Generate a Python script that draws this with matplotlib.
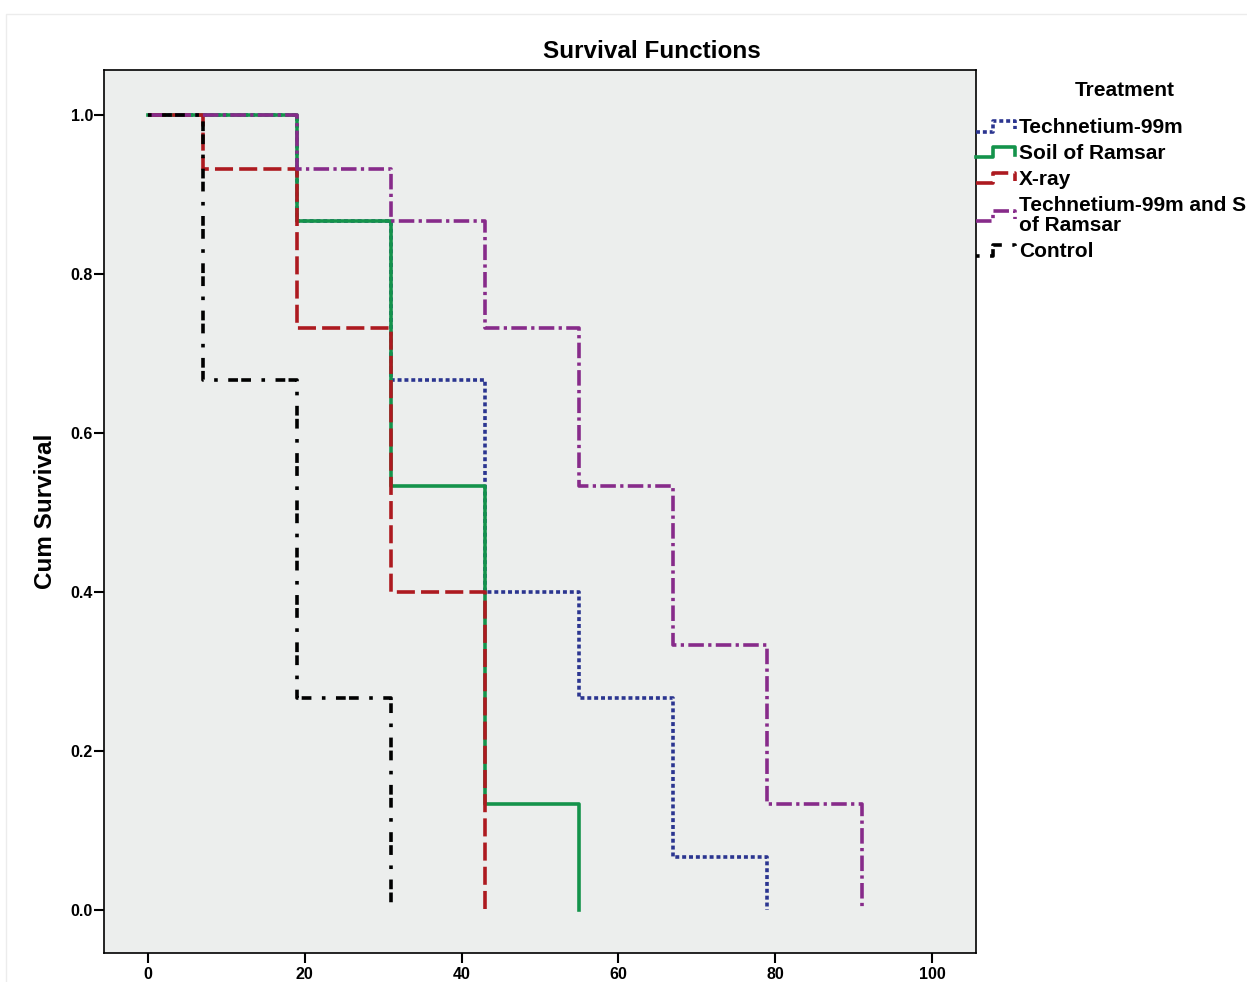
import matplotlib
matplotlib.use('Agg')
import matplotlib.pyplot as plt
from matplotlib.lines import Line2D
from matplotlib.legend_handler import HandlerBase
from matplotlib.patches import Rectangle

plt.rcParams['font.family'] = ['Liberation Sans', 'DejaVu Sans']
plt.rcParams['font.weight'] = 'bold'

# Kaplan-Meier step data (time, cumulative survival)
tc_times = [0, 19, 31, 43, 55, 67, 79]
tc_surv = [1.0, 0.867, 0.667, 0.4, 0.267, 0.067, 0.0]
soil_times = [0, 19, 31, 43, 55]
soil_surv = [1.0, 0.867, 0.533, 0.133, 0.0]
xray_times = [0, 7, 19, 31, 43]
xray_surv = [1.0, 0.933, 0.733, 0.4, 0.0]
tcsoil_times = [0, 19, 31, 43, 55, 67, 79, 91]
tcsoil_surv = [1.0, 0.933, 0.867, 0.733, 0.533, 0.333, 0.133, 0.0]
ctrl_times = [0, 7, 19, 31]
ctrl_surv = [1.0, 0.667, 0.267, 0.0]

labels = ['Technetium-99m', 'Soil of Ramsar', 'X-ray',
          'Technetium-99m and Soil\nof Ramsar', 'Control']
xticks = [0, 20, 40, 60, 80, 100]
yticks = [0.0, 0.2, 0.4, 0.6, 0.8, 1.0]


class StepHandler(HandlerBase):
    # legend icon shaped like a little survival step
    def create_artists(self, legend, orig_handle, xdescent, ydescent,
                       width, height, fontsize, trans):
        w, h = width, height
        xs = [-xdescent, -xdescent + 0.45 * w, -xdescent + 0.45 * w,
              -xdescent + w, -xdescent + w]
        ys = [-ydescent + 0.1 * h, -ydescent + 0.1 * h, -ydescent + 0.8 * h,
              -ydescent + 0.8 * h, -ydescent + 0.25 * h]
        ln = Line2D(xs, ys)
        self.update_prop(ln, orig_handle, legend)
        ln.set_transform(trans)
        return [ln]


fig = plt.figure(figsize=(12.47, 9.82), dpi=100)
fig.patches.append(Rectangle((6 / 1247, -0.05), 1.2, 1.05 - 14 / 982,
                             transform=fig.transFigure, fill=False,
                             edgecolor='#ececec', linewidth=1))
ax = fig.add_axes([104 / 1247, 29 / 982, 872 / 1247, 883 / 982])
ax.set_facecolor('#eceeed')

lw = 2.6
series = [
    (tc_times, tc_surv, '#2b3590', (0, (1.1, 0.8))),
    (soil_times, soil_surv, '#14934b', '-'),
    (xray_times, xray_surv, '#ad1a20', (0, (5, 1.7))),
    (tcsoil_times, tcsoil_surv, '#872b8a', (0, (4.3, 1.2, 0.9, 1.2))),
    (ctrl_times, ctrl_surv, 'black', (0, (1, 2.9, 2.7, 0.9, 2.7, 2.9))),
]
handles = []
for (t, s, c, ls), lab in zip(series, labels):
    l, = ax.step(t, s, where='post', color=c, linestyle=ls, linewidth=lw,
                 label=lab)
    handles.append(l)

ax.set_xlim(-5.6, 105.6)
ax.set_ylim(-0.054, 1.057)
ax.set_xticks(xticks)
ax.set_yticks(yticks)
ax.set_xticklabels([str(v) for v in xticks])
ax.set_yticklabels(['%.1f' % v for v in yticks])
ax.tick_params(direction='out', length=7, width=1.5, labelsize=11.5, pad=1)
ax.tick_params(axis='x', pad=3)
for sp in ax.spines.values():
    sp.set_linewidth(1.2)

ax.set_ylabel('Cum Survival', fontsize=17.5, fontweight='bold')
ax.yaxis.set_label_coords(-0.054, 0.5)
fig.text(652 / 1247, 1 - 51 / 982, 'Survival Functions', ha='center',
         va='center', fontsize=17.5, fontweight='bold')

fig.text(1125 / 1247, 1 - 91 / 982, 'Treatment', ha='center', va='center',
         fontsize=15, fontweight='bold')
leg = fig.legend(handles=handles, labels=labels, loc='upper left',
                 bbox_to_anchor=(976 / 1247, 1 - 118 / 982), frameon=False,
                 fontsize=15, handlelength=1.85, handletextpad=0.2,
                 labelspacing=0.33, borderpad=0, borderaxespad=0,
                 handler_map={Line2D: StepHandler()})
leg.get_texts()[3].set_linespacing(1.1)

fig.savefig('out.png', dpi=100)
